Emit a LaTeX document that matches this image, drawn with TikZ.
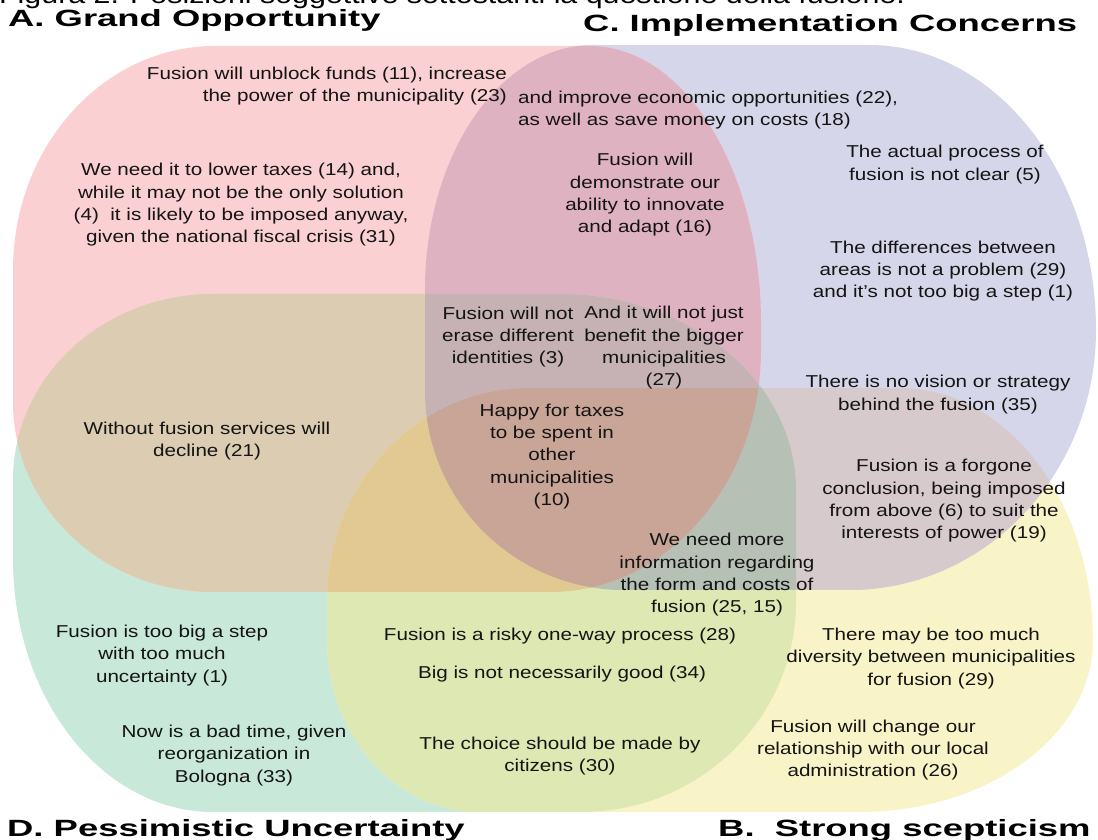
\documentclass[tikz,border=0pt]{standalone}
\usepackage{fontspec}
\setmainfont{Liberation Sans}
\newfontfamily\bodyfont[FakeStretch=1.2]{Liberation Sans}
\newfontfamily\headfont[FakeStretch=1.55]{Liberation Sans}
% colours of the single sets and of every overlap
\definecolor{cA}{RGB}{250,208,210}
\definecolor{cB}{RGB}{249,244,200}
\definecolor{cC}{RGB}{214,214,234}
\definecolor{cD}{RGB}{200,232,218}
\definecolor{cAB}{RGB}{235,200,180}
\definecolor{cAC}{RGB}{223,178,193}
\definecolor{cAD}{RGB}{219,204,178}
\definecolor{cBC}{RGB}{214,202,204}
\definecolor{cBD}{RGB}{221,232,178}
\definecolor{cCD}{RGB}{185,200,205}
\definecolor{cABC}{RGB}{215,170,170}
\definecolor{cABD}{RGB}{226,201,146}
\definecolor{cACD}{RGB}{198,178,180}
\definecolor{cBCD}{RGB}{183,192,180}
\definecolor{cABCD}{RGB}{200,165,150}
\definecolor{ink}{RGB}{20,20,20}
\tikzset{
  % A: Grand Opportunity
  pathA/.style={insert path={(215,794) -- (590,794)
    arc[start angle=90,end angle=0,x radius=171,y radius=277] -- (761,490)
    arc[start angle=0,end angle=-90,x radius=211,y radius=242] -- (213,248)
    arc[start angle=270,end angle=180,x radius=200,y radius=190] -- (13,570)
    arc[start angle=180,end angle=90,x radius=202,y radius=224] -- cycle}},
  % B: Strong scepticism
  pathB/.style={insert path={(530,452) -- (900,452)
    arc[start angle=90,end angle=0,x radius=193,y radius=252] -- (1093,200)
    arc[start angle=0,end angle=-90,x radius=233,y radius=172] -- (480,28)
    arc[start angle=270,end angle=180,x radius=153,y radius=172] -- (327,240)
    arc[start angle=180,end angle=90,x radius=203,y radius=212] -- cycle}},
  % C: Implementation Concerns
  pathC/.style={insert path={(593,795) -- (869,795)
    arc[start angle=90,end angle=0,x radius=227,y radius=285] -- (1096,510)
    arc[start angle=0,end angle=-90,x radius=247,y radius=260] -- (625,250)
    arc[start angle=270,end angle=180,x radius=200,y radius=200] -- (425,550)
    arc[start angle=180,end angle=90,x radius=168,y radius=245] -- cycle}},
  % D: Pessimistic Uncertainty
  pathD/.style={insert path={(213,546) -- (559,546)
    arc[start angle=90,end angle=0,x radius=237,y radius=196] -- (796,238)
    arc[start angle=0,end angle=-90,x radius=215,y radius=210] -- (213,28)
    arc[start angle=270,end angle=180,x radius=200,y radius=253] -- (13,360)
    arc[start angle=180,end angle=90,x radius=200,y radius=186] -- cycle}},
  stmt/.style={font={\bodyfont\fontsize{17.2pt}{22.3pt}\selectfont}, text=ink, inner sep=0pt, align=center},
  heading/.style={font={\headfont\bfseries\fontsize{23.5pt}{26pt}\selectfont}, text=black, inner sep=0pt, anchor=base west},
}
\begin{document}
\begin{tikzpicture}[x=1pt,y=1pt]
\useasboundingbox (0,0) rectangle (1098,840);
\clip (0,0) rectangle (1098,840);

% single sets
\fill[cD, pathD];
\fill[cB, pathB];
\fill[cC, pathC];
\fill[cA, pathA];
% pairwise overlaps
\begin{scope}\clip[pathA]; \fill[cAB, pathB]; \end{scope}
\begin{scope}\clip[pathA]; \fill[cAC, pathC]; \end{scope}
\begin{scope}\clip[pathA]; \fill[cAD, pathD]; \end{scope}
\begin{scope}\clip[pathB]; \fill[cBC, pathC]; \end{scope}
\begin{scope}\clip[pathB]; \fill[cBD, pathD]; \end{scope}
\begin{scope}\clip[pathC]; \fill[cCD, pathD]; \end{scope}
% triple overlaps
\begin{scope}\clip[pathA]; \clip[pathB]; \fill[cABC, pathC]; \end{scope}
\begin{scope}\clip[pathA]; \clip[pathB]; \fill[cABD, pathD]; \end{scope}
\begin{scope}\clip[pathA]; \clip[pathC]; \fill[cACD, pathD]; \end{scope}
\begin{scope}\clip[pathB]; \clip[pathC]; \fill[cBCD, pathD]; \end{scope}
% all four
\begin{scope}\clip[pathA]; \clip[pathB]; \clip[pathC]; \fill[cABCD, pathD]; \end{scope}

% caption line running off the top edge
\node[anchor=base west, inner sep=0pt, font={\bodyfont\fontsize{25.3pt}{28pt}\selectfont}] (caption) at (-1,836)
  {Figura 2. Posizioni soggettive sottostanti la questione della fusione.};

% headings
\node[heading] (hA) at (8,813) {A. Grand Opportunity};
\node[heading] (hC) at (583,808) {C. Implementation Concerns};
\node[heading] (hD) at (7,3) {D. Pessimistic Uncertainty};
\node[heading] (hB) at (718,3) {B.\ \ Strong scepticism};

% statements
\node[stmt, align=right, anchor=east] (s1) at (507,754) {Fusion will unblock funds (11), increase\\the power of the municipality (23)};
\node[stmt, align=left, anchor=west] (s2) at (518,730) {and improve economic opportunities (22),\\as well as save money on costs (18)};
\node[stmt] (s3) at (241,635) {We need it to lower taxes (14) and,\\while it may not be the only solution\\(4)\ \ it is likely to be imposed anyway,\\given the national fiscal crisis (31)};
\node[stmt] (s4) at (645,645) {Fusion will\\demonstrate our\\ability to innovate\\and adapt (16)};
\node[stmt] (s5) at (945,675.5) {The actual process of\\fusion is not clear (5)};
\node[stmt] (s6) at (943,569) {The differences between\\areas is not a problem (29)\\and it’s not too big a step (1)};
\node[stmt] (s7) at (508,503) {Fusion will not\\erase different\\identities (3)};
\node[stmt] (s8) at (664,492) {And it will not just\\benefit the bigger\\municipalities\\(27)};
\node[stmt] (s9) at (552,383.5) {Happy for taxes\\to be spent in\\other\\municipalities\\(10)};
\node[stmt] (s10) at (207,399) {Without fusion services will\\decline (21)};
\node[stmt] (s11) at (938,445.5) {There is no vision or strategy\\behind the fusion (35)};
\node[stmt] (s12) at (944,339) {Fusion is a forgone\\conclusion, being imposed\\from above (6) to suit the\\interests of power (19)};
\node[stmt] (s13) at (717,265) {We need more\\information regarding\\the form and costs of\\fusion (25, 15)};
\node[stmt] (s14) at (560,203.5) {Fusion is a risky one-way process (28)};
\node[stmt] (s15) at (562,165.5) {Big is not necessarily good (34)};
\node[stmt] (s16) at (560,84) {The choice should be made by\\citizens (30)};
\node[stmt] (s17) at (931,181.5) {There may be too much\\diversity between municipalities\\for fusion (29)};
\node[stmt] (s18) at (873,90) {Fusion will change our\\relationship with our local\\administration (26)};
\node[stmt] (s19) at (162,184.5) {Fusion is too big a step\\with too much\\uncertainty (1)};
\node[stmt] (s20) at (234,84.5) {Now is a bad time, given\\reorganization in\\Bologna (33)};
\end{tikzpicture}
\end{document}
